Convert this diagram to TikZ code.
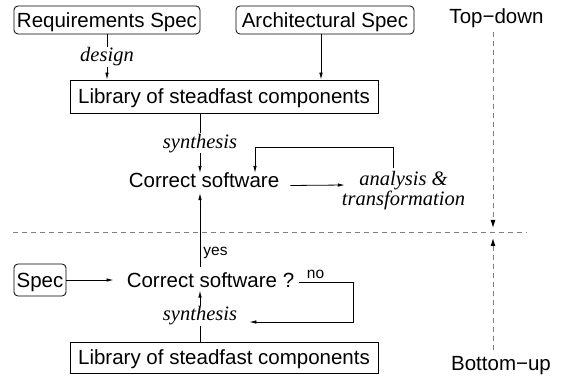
\documentclass[tikz,border=0pt]{standalone}
\usepackage{fontspec}
\setmainfont{Liberation Serif}
\setsansfont{Liberation Sans}
\usetikzlibrary{arrows.meta}
\tikzset{
  sansfont/.style={font=\sffamily\fontsize{20.5}{20}\selectfont},
  box/.style={draw, sansfont, text height=14.7pt, text depth=0pt, inner sep=0pt, line width=0.8pt},
  rbox/.style={box, rounded corners=4pt},
  lbl/.style={sansfont, text height=14.7pt, text depth=0pt, inner sep=0pt},
  itlbl/.style={font=\itshape\fontsize{20.5}{17}\selectfont, fill=white, inner sep=1pt},
  smalllbl/.style={font=\sffamily\fontsize{15.5}{15}\selectfont, inner sep=0pt},
  conn/.style={line width=0.8pt, -{Latex[length=7pt,width=3.5pt]}},
  dashline/.style={gray, line width=1pt, dash pattern=on 5pt off 4pt},
  dasharrow/.style={dashline, -{Latex[length=8pt,width=5pt,black]}}
}
\begin{document}
\begin{tikzpicture}[x=1pt,y=-1pt]
\useasboundingbox (0,0) rectangle (563,377);
% nodes
\node[rbox, minimum width=186pt, minimum height=28pt] (req) at (107,20) {Requirements Spec};
\node[rbox, minimum width=178pt, minimum height=28pt] (arch) at (325,20) {Architectural Spec};
\node[box, minimum width=308pt, minimum height=33pt] (lib1) at (224,96.5) {Library of steadfast components};
\node[lbl] (cs1) at (204,180.5) {Correct software};
\node[font=\itshape\fontsize{20.5}{17}\selectfont, inner sep=0pt, align=center] (ana) at (403.5,190.5) {analysis \&\\transformation};
\node[rbox, minimum width=52pt, minimum height=32pt] (spec) at (40,280) {Spec};
\node[lbl] (cs2) at (210.5,280) {Correct software ?};
\node[box, minimum width=308pt, minimum height=31pt] (lib2) at (224,357.5) {Library of steadfast components};
\node[lbl] (td) at (496.5,16.6) {Top−down};
\node[lbl] (bu) at (501,363.6) {Bottom−up};
% helper coordinates
\coordinate (ax) at (200,0);
\coordinate (archx) at (321,0);
\coordinate (loopA) at (255,147);
\coordinate (noR) at (353,282);
\coordinate (noB) at (353,322);
\coordinate (hl) at (13,233);
\coordinate (hr) at (527,233);
\coordinate (vt) at (493,32);
\coordinate (vm1) at (493,228);
\coordinate (vm2) at (493,238);
\coordinate (vb) at (493,350);
% top part
\draw[conn] (req.south) -- node[itlbl] {design} (req.south |- lib1.north);
\draw[conn] (arch.south -| archx) -- (lib1.north -| archx);
\draw[conn] (lib1.south -| ax) -- node[itlbl] {synthesis} (cs1.north -| ax);
\draw[conn] ([shift={(11,5)}]cs1.east) -- ([shift={(3,-5.5)}]ana.west);
\draw[conn] ([shift={(-10.5,-3)}]ana.north) |- (loopA) -- (loopA |- cs1.north);
% separator
\draw[dashline] (hl) -- (hr);
\draw[dasharrow] (vt) -- (vm1);
\draw[dasharrow] (vb) -- (vm2);
% bottom part
\draw[conn] ([yshift=5pt]cs2.north -| ax) -- node[smalllbl, anchor=west, pos=0.2, xshift=3pt] {yes} ([yshift=-5pt]cs1.south -| ax);
\draw[conn] (spec.east) -- ([xshift=-13pt]cs2.west);
\draw[conn] (lib2.north -| ax) -- node[itlbl] (syn2) {synthesis} ([yshift=-3pt]cs2.south -| ax);
\draw[conn] ([shift={(5,2)}]cs2.east) -- node[smalllbl, above, pos=0.3, yshift=3pt] {no} (noR) -- (noB) -- ([xshift=11pt]syn2.east |- noB);
\end{tikzpicture}
\end{document}
